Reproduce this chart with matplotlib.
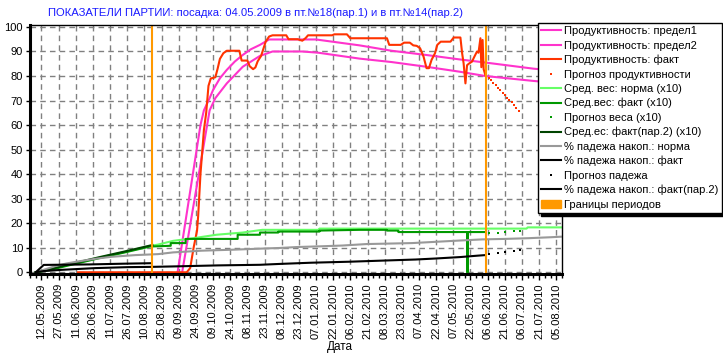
import numpy as np
import pandas as pd
import matplotlib
matplotlib.use("Agg")
import matplotlib.pyplot as plt
from matplotlib.patches import Patch

plt.rcParams['font.family'] = ['Liberation Sans', 'DejaVu Sans']

start_date = "2009-05-04"
title = "ПОКАЗАТЕЛИ ПАРТИИ: посадка: 04.05.2009 в пт.№18(пар.1) и в пт.№14(пар.2)"
xlabel = "Дата"

# day offsets from start_date and values
lim1_d = [127, 147, 150, 155, 158, 164, 170, 177, 184, 191, 199, 207, 248, 286, 314, 344, 373, 396, 438, 462]
lim1_v = [0, 60, 66, 71, 74.3, 79.1, 82.5, 85.9, 88.6, 90.9, 92.7, 94.9, 94.9, 92.5, 90.3, 88.6, 86.8, 85.5, 83.0, 82.0]
lim2_d = [131, 151, 155, 160, 170, 184, 199, 210, 236, 250, 274, 286, 314, 344, 373, 396, 438, 462]
lim2_v = [0, 55, 66, 71, 77, 83.8, 88.2, 90, 90, 89.5, 87.9, 87.1, 85.7, 83.8, 81.8, 80, 78, 77]
fact_d = [40, 135, 138, 141, 144, 145, 147, 150, 152, 154, 156, 160, 162, 164, 167, 170, 181, 183, 188, 190,
          193, 195, 197, 200, 204, 207, 210, 222, 224, 232, 236, 239, 241, 262, 264, 275, 278, 310, 312, 322,
          325, 330, 333, 336, 339, 342, 344.6, 346.7, 349, 352, 354, 357, 365.5, 368.4, 374.2, 375.7, 377,
          378.6, 380, 381.5, 384.4, 386, 388.7, 390, 391.7, 392.5, 393.6, 394.5, 396]
fact_v = [0, 0, 1.7, 10, 17, 23, 40, 58, 65, 76, 79, 79.5, 83, 87, 89.3, 90.3, 90.3, 86.3, 86.3, 84,
          82.8, 83.5, 86, 88.2, 94, 96.1, 96.6, 96.6, 95, 95, 94.4, 95.5, 96.6, 96.6, 97, 97, 95.4, 95.4, 92.7, 92.7,
          93.6, 93.6, 92.5, 92.3, 91.3, 87.9, 83.2, 83.2, 86.6, 89.3, 92.7, 94, 94, 95.7, 95.7, 89.3, 85.2,
          77, 84.4, 85, 85.9, 87.5, 90, 89.5, 95.4, 83.6, 94.7, 82.8, 80.4]
prog_d = [397, 399, 401, 403, 405, 407, 409, 411, 413, 415, 417, 419, 421, 423, 425]
prog_v = [79.8, 79.0, 78.2, 77.2, 76.2, 75.1, 74.1, 73.1, 72.2, 71.2, 70.3, 69.3, 68.2, 67.0, 65.6]

wnorm_d = [3, 30, 59, 80, 103, 110, 123, 141, 161, 184, 201, 250, 251, 432, 433, 462]
wnorm_v = [0, 2.8, 6.0, 8.2, 10.7, 11.3, 12.8, 13.9, 15.3, 16.2, 17.3, 17.3, 17.8, 17.8, 18.3, 18.3]
wfact_d = [3, 16, 30, 59, 80, 103, 121, 121, 134, 134, 179.5, 179.5, 199, 199, 215, 215, 251, 251, 286,
           310, 310, 320, 320, 380, 380, 380.8, 380.8, 396]
wfact_v = [0, 1.0, 2.6, 5.8, 8.0, 10.5, 10.8, 11.9, 11.9, 13.6, 13.6, 15.3, 15.3, 16.2, 16.2, 16.6, 16.6, 17.0, 17.3,
           17.3, 17.0, 17.0, 16.4, 16.4, 0, 0, 16.4, 16.4]
wprog_d = [399, 407, 413, 421, 426]
wprog_v = [16.2, 16.2, 16.4, 17.0, 17.0]
wfact2_d = [3, 16, 30, 59, 80, 103, 105]
wfact2_v = [0, 1.3, 3.0, 6.2, 8.4, 10.9, 11.1]

mnorm_d = [3, 10, 20, 30, 40, 55, 69, 90, 110, 123, 148, 175, 203, 216, 232, 253, 271, 292, 312, 332, 352,
           372, 393, 413, 434, 454, 462]
mnorm_v = [0, 1.0, 2.5, 3.6, 4.4, 5.5, 6.3, 7.0, 7.4, 8.1, 8.8, 9.2, 9.7, 9.9, 10.3, 10.6, 10.9, 11.5, 11.7,
           11.9, 12.4, 12.9, 13.4, 13.6, 13.9, 14.3, 14.5]
mfact_d = [3, 10, 26, 55, 84, 104, 125, 162, 199, 216, 244, 277, 309, 335, 352, 374, 390, 396]
mfact_v = [0, 0.5, 1.0, 1.7, 2.1, 2.2, 2.4, 2.8, 3.05, 3.4, 3.9, 4.3, 4.8, 5.2, 5.6, 6.2, 6.8, 7.0]
mprog_d = [399.5, 407, 413.4, 420.7, 426]
mprog_v = [7.4, 7.8, 8.1, 8.5, 8.9]
mfact2_d = [3, 10, 50, 80, 104]
mfact2_v = [0, 3.0, 3.2, 3.5, 3.7]

period_d = [105, 397]

labels = ["Продуктивность: предел1", "Продуктивность: предел2", "Продуктивность: факт",
          "Прогноз продуктивности", "Сред. вес: норма (x10)", "Сред.вес: факт (x10)",
          "Прогноз веса (x10)", "Сред.ес: факт(пар.2) (x10)", "% падежа накоп.: норма",
          "% падежа накоп.: факт", "Прогноз падежа", "% падежа накоп.: факт(пар.2)",
          "Границы периодов"]

base = pd.Timestamp(start_date)
def dt(d):
    return base + pd.to_timedelta(np.asarray(d, dtype=float), unit="D")

fig = plt.figure(figsize=(7.23, 3.60), dpi=100)
ax = fig.add_axes([30/723, 1 - 273.5/360, (562-30)/723, (273.5-25)/360])

lw = 1.5
ax.plot(dt(lim1_d), lim1_v, color="#FF33CC", lw=lw, label=labels[0])
ax.plot(dt(lim2_d), lim2_v, color="#FF33CC", lw=lw, label=labels[1])
ax.plot(dt(fact_d), fact_v, color="#FF3300", lw=lw, label=labels[2])
ax.plot(dt(prog_d), prog_v, ls="none", marker="s", ms=1.8, mew=0, color="#FF3300", label=labels[3])
ax.plot(dt(wnorm_d), wnorm_v, color="#66FF66", lw=lw, label=labels[4])
ax.plot(dt(wfact_d), wfact_v, color="#009900", lw=lw, label=labels[5])
ax.plot(dt(wprog_d), wprog_v, ls="none", marker="s", ms=2, mew=0, color="#009900", label=labels[6])
ax.plot(dt(wfact2_d), wfact2_v, color="#004400", lw=lw, label=labels[7])
ax.plot(dt(mnorm_d), mnorm_v, color="#999999", lw=lw, label=labels[8])
ax.plot(dt(mfact_d), mfact_v, color="black", lw=lw, label=labels[9])
ax.plot(dt(mprog_d), mprog_v, ls="none", marker="s", ms=2, mew=0, color="black", label=labels[10])
ax.plot(dt(mfact2_d), mfact2_v, color="black", lw=lw, label=labels[11])
for pdx in dt(period_d):
    ax.plot([pdx, pdx], [0, 100], color="#FF9900", lw=lw)

ax.set_xlim(dt(-1.5), dt(461.6))
ax.set_ylim(-0.5, 100.8)

major = pd.date_range("2009-05-12", "2010-08-05", freq="15D")
minor = pd.date_range("2009-05-02", "2010-08-10", freq="5D")
ax.set_xticks(major)
ax.set_xticklabels([m.strftime("%d.%m.%Y") for m in major], rotation=90, fontsize=8)
ax.set_xticks(minor, minor=True)
ax.set_yticks(np.arange(0, 101, 10))
ax.tick_params(axis="y", labelsize=8, length=3, width=1, pad=2)
ax.tick_params(axis="x", which="major", length=4, width=1, pad=3)
ax.tick_params(axis="x", which="minor", length=3, width=1)
ax.grid(True, which="major", color="#808080", ls=(0, (4, 3)), lw=1)
ax.set_axisbelow(True)
for s in ["left", "bottom"]:
    ax.spines[s].set_linewidth(2.2)
for s in ["top", "right"]:
    ax.spines[s].set_linewidth(1)

fig.text(48/723, 1 - 13/360, title, color="#1A1AFF", fontsize=8.1, ha="left", va="center")
fig.text(340/723, 1 - 347/360, xlabel, fontsize=8.5, ha="center", va="center")

handles, labs = ax.get_legend_handles_labels()
handles.append(Patch(facecolor="#FF9900", edgecolor="#FF9900"))
labs.append(labels[12])
leg = fig.legend(handles, labs, loc="upper left", bbox_to_anchor=(538/723, 1 - 23/360),
                 bbox_transform=fig.transFigure, fontsize=8, frameon=True, fancybox=False,
                 shadow={"color": "black", "alpha": 1}, borderaxespad=0, borderpad=0.3,
                 labelspacing=0.38, handlelength=1.8, handletextpad=0.25, framealpha=1,
                 edgecolor="black")
leg.get_frame().set_linewidth(1)

fig.savefig("out.png", dpi=100)
